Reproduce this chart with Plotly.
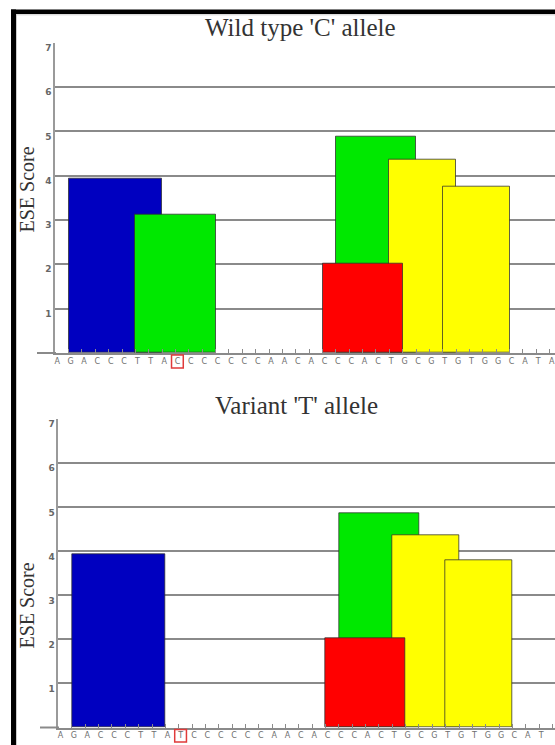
import plotly.graph_objects as go

W, H = 555, 745

# ---------------- data ----------------
seq_wild = list("AGACCCTTACCCCCCCAACACCCACTGCGTGTGGCATA")
seq_variant = list("AGACCCTTATCCCCCCAACACCCACTGCGTGTGGCATA")
snp_index = 9

# ESE motif hits (start / end position on the sequence, score, SR protein)
wt_motif = ["SC35", "SRp40", "SRp40", "SRp55", "SRp55", "SF2/ASF"]
wt_start = [1, 6, 21, 25, 29, 20]
wt_end = [8, 12, 27, 30, 34, 26]
wt_score = [3.93, 3.13, 4.87, 4.36, 3.76, 2.02]

var_motif = ["SC35", "SRp40", "SRp55", "SRp55", "SF2/ASF"]
var_start = [1, 21, 25, 29, 20]
var_end = [8, 27, 30, 34, 26]
var_score = [3.93, 4.87, 4.37, 3.79, 2.03]

y_ticks = [1, 2, 3, 4, 5, 6, 7]

motif_colors = {"SC35": "#0000c0", "SRp40": "#00e800",
                "SRp55": "#ffff00", "SF2/ASF": "#ff0000"}


def px_x(p):
    return p / W


def px_y(p):
    return 1 - p / H


fig = go.Figure()


def add_panel(start, end, score, motif, xa, ya):
    centers = [(s + e) / 2 for s, e in zip(start, end)]
    widths = [e - s for s, e in zip(start, end)]
    fig.add_trace(go.Bar(
        x=centers, y=score, width=widths, base=0,
        marker=dict(color=[motif_colors[m] for m in motif],
                    line=dict(color="rgba(45,45,45,0.75)", width=1)),
        xaxis=xa, yaxis=ya, showlegend=False, hoverinfo="skip"))


add_panel(wt_start, wt_end, wt_score, wt_motif, "x", "y")
add_panel(var_start, var_end, var_score, var_motif, "x2", "y2")

xcommon = dict(tickmode="array", ticks="inside", ticklen=4, tickcolor="#8a8a8a",
               tickwidth=1, showline=True, linecolor="#8a8a8a", linewidth=2,
               showgrid=False, zeroline=False, tickangle=0, ticklabelshift=2,
               tickfont=dict(family="DejaVu Sans", size=8, color="#6e6e6e"))
ycommon = dict(range=[0, 7], tickmode="array", tickvals=y_ticks, showgrid=True,
               gridcolor="#8a8a8a", gridwidth=1.5, showline=True,
               linecolor="#9a9a9a", linewidth=1.5, zeroline=False, ticks="",
               ticklabelshift=5,
               tickfont=dict(family="DejaVu Sans", size=9, color="#666666",
                             weight="bold"))

fig.update_layout(
    width=W, height=H, autosize=False,
    margin=dict(l=0, r=0, t=0, b=0),
    paper_bgcolor="white", plot_bgcolor="white",
    barmode="overlay", bargap=0,
    xaxis=dict(domain=[px_x(55), 1], range=[-0.02, 37.4],
               tickvals=list(range(len(seq_wild))), ticktext=seq_wild,
               anchor="y", **xcommon),
    yaxis=dict(domain=[px_y(353), px_y(42.7)], anchor="x", **ycommon),
    xaxis2=dict(domain=[px_x(58.3), 1], range=[-0.02, 37.19],
                tickvals=list(range(len(seq_variant))), ticktext=seq_variant,
                anchor="y2", **xcommon),
    yaxis2=dict(domain=[px_y(727.5), px_y(419.3)], anchor="x2", **ycommon),
)

try:
    fig.update_xaxes(ticklabelstandoff=-1)
except Exception:
    pass

title_font = dict(family="Liberation Serif", size=25, color="#333333")
ytitle_font = dict(family="Liberation Serif", size=20, color="#333333")
fig.add_annotation(text="Wild type 'C' allele", xref="paper", yref="paper",
                   x=px_x(300), y=px_y(27), xanchor="center", yanchor="middle",
                   showarrow=False, font=title_font)
fig.add_annotation(text="Variant 'T' allele", xref="paper", yref="paper",
                   x=px_x(296), y=px_y(405), xanchor="center", yanchor="middle",
                   showarrow=False, font=title_font)
fig.add_annotation(text="ESE Score", xref="paper", yref="paper", textangle=-90,
                   x=px_x(26.5), y=px_y(190), xanchor="center", yanchor="middle",
                   showarrow=False, font=ytitle_font)
fig.add_annotation(text="ESE Score", xref="paper", yref="paper", textangle=-90,
                   x=px_x(26.5), y=px_y(606), xanchor="center", yanchor="middle",
                   showarrow=False, font=ytitle_font)

shapes = []
# x-axis line extending left of the y axis
shapes.append(dict(type="line", xref="paper", yref="paper", x0=px_x(37), x1=px_x(56),
                   y0=px_y(353), y1=px_y(353), line=dict(color="#8a8a8a", width=2)))
shapes.append(dict(type="line", xref="paper", yref="paper", x0=px_x(40), x1=px_x(59),
                   y0=px_y(727.5), y1=px_y(727.5), line=dict(color="#8a8a8a", width=2)))
# red box around the SNP base
shapes.append(dict(type="rect", xref="x", yref="paper", x0=snp_index - 0.3,
                   x1=snp_index + 0.58, y0=px_y(368), y1=px_y(355),
                   line=dict(color="#e03a3a", width=1.5)))
shapes.append(dict(type="rect", xref="x2", yref="paper", x0=snp_index - 0.3,
                   x1=snp_index + 0.58, y0=px_y(742), y1=px_y(729.5),
                   line=dict(color="#e03a3a", width=1.5)))
# screenshot frame
shapes.append(dict(type="rect", xref="paper", yref="paper", x0=px_x(11), x1=px_x(16),
                   y0=0, y1=px_y(9.5), fillcolor="black", line=dict(width=0), layer="above"))
shapes.append(dict(type="rect", xref="paper", yref="paper", x0=px_x(11), x1=1,
                   y0=px_y(14), y1=px_y(9.5), fillcolor="black", line=dict(width=0), layer="above"))
shapes.append(dict(type="line", xref="paper", yref="paper", x0=px_x(16.5), x1=px_x(16.5),
                   y0=0, y1=px_y(14), line=dict(color="#cccccc", width=1)))
shapes.append(dict(type="line", xref="paper", yref="paper", x0=px_x(16), x1=1,
                   y0=px_y(14.8), y1=px_y(14.8), line=dict(color="#cccccc", width=1)))
fig.update_layout(shapes=shapes)

fig.write_html("out.html")
